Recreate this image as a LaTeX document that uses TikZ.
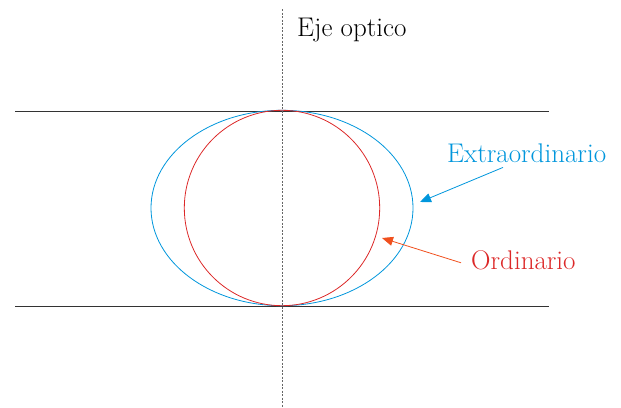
\documentclass[tikz,border=0pt]{standalone}
\usetikzlibrary{arrows.meta}
\definecolor{azulE}{RGB}{0,150,220}
\definecolor{rojoO}{RGB}{220,40,40}
\definecolor{naranjaO}{RGB}{240,80,30}
\tikzset{
  borde/.style={line width=0.9pt,black!80},
  eje/.style={line width=0.8pt,gray!80!black,dash pattern=on 2pt off 1.5pt},
  curvaE/.style={line width=0.8pt,azulE},
  curvaO/.style={line width=0.8pt,rojoO},
  etiq/.style={inner sep=0pt,anchor=base west},
  flechaE/.style={-{Triangle[length=11pt,width=9pt]},line width=0.8pt,azulE},
  flechaO/.style={-{Triangle[length=11pt,width=9pt]},line width=0.8pt,naranjaO},
}

\begin{document}
\begin{tikzpicture}[x=1pt,y=-1pt,font=\fontsize{27}{30}\selectfont]
  \useasboundingbox (0,0) rectangle (621,407);
  % placas
  \draw[borde] (15,111) -- (549,111);
  \draw[borde] (15,306.5) -- (549,306.5);
  % indicatrices
  \draw[curvaE] (282,208) ellipse [x radius=131,y radius=97.7];
  \draw[curvaO] (282,208) circle [radius=97.7];
  \draw[eje] (282,9) -- (282,407);
  % textos
  \node[etiq] (eje) at (297,36) {Eje optico};
  \node[etiq,text=azulE] (extra) at (447,162) {Extraordinario};
  \node[etiq,text=rojoO] (ordi) at (471,269) {Ordinario};
  \coordinate (pE) at (420,202);
  \coordinate (pO) at (382,238);
  \draw[flechaE] (extra.south west) ++(56,5) -- (pE);
  \draw[flechaO] (ordi.west) ++(-10,3) -- (pO);
\end{tikzpicture}
\end{document}
